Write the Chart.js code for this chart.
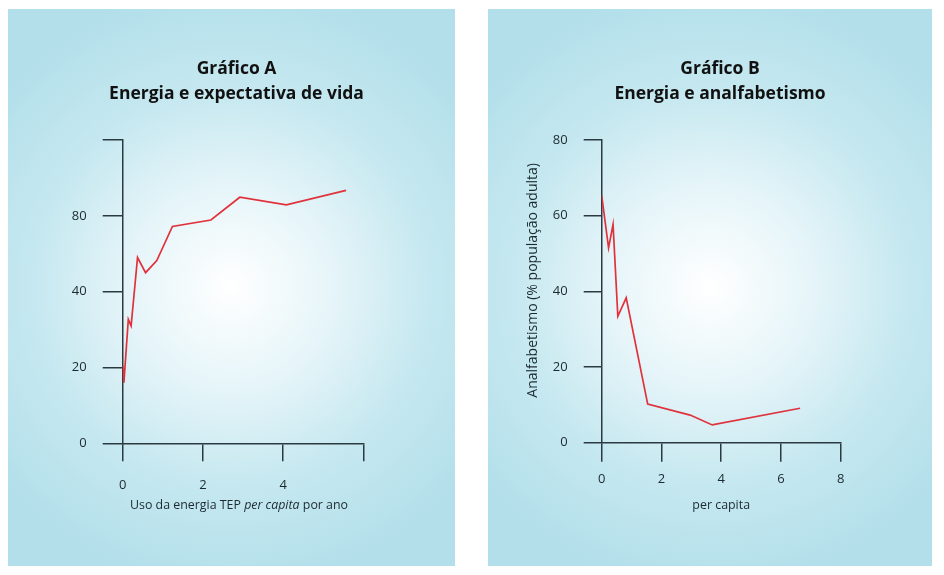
<!DOCTYPE html>
<html>
<head>
<meta charset="utf-8">
<script src="https://cdn.jsdelivr.net/npm/chart.js@4.4.0/dist/chart.umd.min.js"></script>
<style>
  html, body { margin: 0; padding: 0; background: #fff; }
  body { width: 944px; height: 575px; position: relative; overflow: hidden; }
  .panel {
    position: absolute; top: 9px; height: 557px;
    background: radial-gradient(circle at 50% 50%, #ffffff 0%, #e6f5f9 28%, #c6e8f0 55%, #b2dfea 85%);
  }
  #pA { left: 8px; width: 447px; }
  #pB { left: 488px; width: 444px; }
  canvas { display: block; }
</style>
</head>
<body>
<div class="panel" id="pA"><canvas id="chartA" width="447" height="557"></canvas></div>
<div class="panel" id="pB"><canvas id="chartB" width="444" height="557"></canvas></div>
<script>
// Gráfico A - energia x expectativa de vida
const xA = [0, 0.03, 0.14, 0.21, 0.37, 0.57, 0.85, 1.24, 2.20, 2.92, 4.08, 5.57];
const yA = [20.5, 16.0, 32.7, 31.0, 49.0, 45.0, 48.2, 57.2, 58.9, 64.9, 62.9, 66.7];
const yTicksA = ['0', '20', '40', '80', ''];   // rótulos como aparecem no original
const xTicksA = ['0', '2', '4', ''];

// Gráfico B - energia x analfabetismo
const xB = [0, 0.23, 0.38, 0.54, 0.82, 1.54, 2.96, 3.70, 6.64];
const yB = [65.3, 51.5, 57.7, 33.4, 38.3, 10.2, 7.3, 4.7, 9.1];
const yTicksB = ['0', '20', '40', '60', '80'];
const xTicksB = ['0', '2', '4', '6', '8'];

const axisColor = '#2b3a40';
const textColor = '#1c2a30';
const red = '#e0323c';
const fam = '"Open Sans", sans-serif';

function pts(xs, ys) {
    return xs.map((x, i) => ({x: x, y: ys[i]}));
}

// textos de eixo desenhados à mão: itálico misto no A, eixo y rotacionado no B
const axisText = {
    id: 'axisText',
    afterDraw(chart, args, opts) {
        if (!opts.items) return;
        const ctx = chart.ctx;
        const area = chart.chartArea;
        opts.items.forEach(it => {
            ctx.save();
            ctx.fillStyle = textColor;
            ctx.textBaseline = 'middle';
            const fnt = p => (p.italic ? 'italic ' : '') + it.size + 'px ' + fam;
            let total = 0;
            const widths = it.parts.map(p => {
                ctx.font = fnt(p);
                const w = ctx.measureText(p.text).width;
                total += w;
                return w;
            });
            let cx, cy;
            if (it.axis === 'x') {
                cx = (area.left + area.right) / 2 + (it.dx || 0);
                cy = area.bottom + it.offset;
            } else {
                cx = area.left - it.offset;
                cy = (area.top + area.bottom) / 2 + (it.dy || 0);
            }
            ctx.translate(cx, cy);
            if (it.axis === 'y') ctx.rotate(-Math.PI / 2);
            let x = -total / 2;
            it.parts.forEach((p, i) => {
                ctx.font = fnt(p);
                ctx.fillText(p.text, x, 0);
                x += widths[i];
            });
            ctx.restore();
        });
    }
};

function makeScale(min, max, labels, tickLen, pad, fitSize, isX) {
    return {
        type: 'linear',
        min: min,
        max: max,
        border: {display: true, color: axisColor, width: 1.5},
        grid: {
            display: true,
            drawOnChartArea: false,
            drawTicks: true,
            tickLength: tickLen,
            color: axisColor,
            lineWidth: 1.5
        },
        ticks: {
            stepSize: (max - min) / (labels.length - 1),
            padding: pad,
            color: textColor,
            font: {family: fam, size: 13},
            callback: function (v, i) { return labels[i]; }
        },
        afterFit: function (s) {
            if (isX) s.height = fitSize; else s.width = fitSize;
        }
    };
}

// eixo vazio à direita: só reserva espaço para o título ficar centrado no painel
function spacer(w) {
    return {
        position: 'right',
        display: true,
        grid: {display: false},
        border: {display: false},
        ticks: {display: false},
        afterFit: function (s) { s.width = w; }
    };
}

function makeChart(id, data, opts) {
    return new Chart(document.getElementById(id), {
        type: 'scatter',
        data: {
            datasets: [{
                data: data,
                showLine: true,
                borderColor: red,
                borderWidth: 1.7,
                pointRadius: 0,
                tension: 0,
                xAxisID: 'x',
                yAxisID: 'y'
            }]
        },
        options: {
            responsive: false,
            animation: false,
            devicePixelRatio: 1,
            layout: {padding: {left: opts.padLeft, right: 0, top: 0, bottom: 0}},
            plugins: {
                legend: {display: false},
                tooltip: {enabled: false},
                title: {
                    display: true,
                    text: opts.title,
                    color: '#111',
                    font: {family: fam, size: 17.5, weight: 'bold', lineHeight: 1.4286},
                    padding: {top: 47.5, bottom: 33.5}
                },
                axisText: {items: opts.texts}
            },
            scales: {x: opts.x, y: opts.y, yR: spacer(opts.rightSpace)}
        },
        plugins: [axisText]
    });
}

makeChart('chartA', pts(xA, yA), {
    title: ['Gráfico A', 'Energia e expectativa de vida'],
    padLeft: 10,
    rightSpace: 91.7,
    x: makeScale(0, 6, xTicksA, 18, 16, 122.7, true),
    y: makeScale(0, 80, yTicksA, 20, 16, 104.7, false),
    texts: [{
        axis: 'x', size: 12.4, offset: 61.7, dx: -4,
        parts: [
            {text: 'Uso da energia TEP '},
            {text: 'per capita', italic: true},
            {text: ' por ano'}
        ]
    }]
});

makeChart('chartB', pts(xB, yB), {
    title: ['Gráfico B', 'Energia e analfabetismo'],
    padLeft: 20,
    rightSpace: 91.3,
    x: makeScale(0, 8, xTicksB, 19, 9.5, 123.3, true),
    y: makeScale(0, 80, yTicksB, 18, 16, 93.7, false),
    texts: [
        {axis: 'x', size: 12.4, offset: 62.3, parts: [{text: 'per capita'}]},
        {axis: 'y', size: 14, offset: 68.7, dy: -11,
         parts: [{text: 'Analfabetismo (% população adulta)'}]}
    ]
});
</script>
</body>
</html>
